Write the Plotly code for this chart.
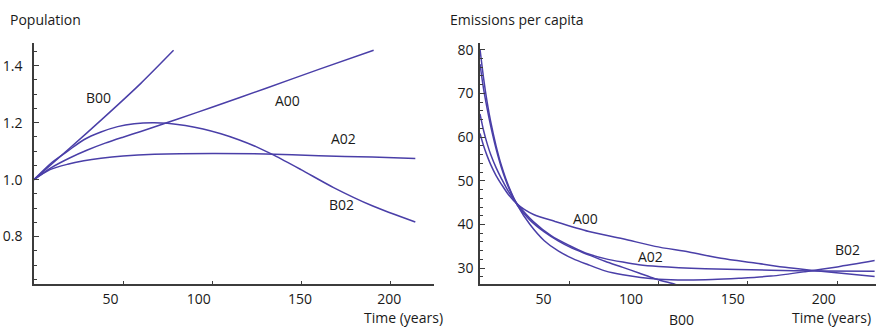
import plotly.graph_objects as go

# ---------------- data ----------------
# Population (relative)
pop_b00_t = [0, 20, 40, 60, 78.4]
pop_b00_v = [1.0, 1.110, 1.222, 1.338, 1.454]

pop_b02_t = [0, 10, 18.9, 28, 37.6, 47, 56.3, 66.6, 75, 85, 95, 105, 115, 125, 135, 150, 168.3, 190, 214.2]
pop_b02_v = [1.0, 1.06, 1.10, 1.140, 1.167, 1.186, 1.196, 1.200, 1.198, 1.190, 1.178, 1.161, 1.140, 1.115, 1.085, 1.035, 0.972, 0.908, 0.851]

pop_a00_t = [0, 10, 20, 30, 40, 50, 60, 70, 80, 100, 130, 160, 190.8]
pop_a00_v = [1.0, 1.043, 1.076, 1.104, 1.128, 1.149, 1.169, 1.190, 1.211, 1.254, 1.320, 1.387, 1.454]

pop_a02_t = [0, 9, 18.9, 28, 37.6, 50, 67.6, 100, 130, 160, 190, 214.2]
pop_a02_v = [1.0, 1.035, 1.054, 1.066, 1.075, 1.083, 1.089, 1.092, 1.090, 1.084, 1.079, 1.074]

# Emissions per capita
em_b02_t = [0, 2, 4, 6, 9, 12, 16, 21, 28, 36, 44, 52, 60, 70, 80, 90, 100, 115, 130, 145, 163, 182, 200, 221]
em_b02_v = [80.1, 73.5, 68.0, 63.5, 58.0, 53.5, 48.8, 44.4, 40.0, 36.3, 33.9, 32.2, 30.9, 29.4, 28.5, 27.9, 27.5, 27.3, 27.4, 27.7, 28.2, 29.2, 30.3, 31.75]

em_b00_t = [0, 2, 4, 6, 9, 12, 16, 21, 28, 36, 44, 51.5, 60, 70, 80, 89, 98, 109.4, 115]
em_b00_v = [76.7, 71.0, 66.5, 62.5, 57.3, 53.0, 48.5, 44.4, 41.0, 38.3, 36.2, 34.6, 33.2, 31.6, 30.2, 28.9, 27.6, 26.3, 25.6]

em_a02_t = [0, 2, 4, 6, 9, 12, 16, 21.5, 30, 40, 50, 59, 70, 80, 89, 100, 126, 163, 190, 221]
em_a02_v = [65.3, 61.5, 58.5, 56.0, 53.0, 50.5, 47.5, 44.4, 40.6, 37.4, 35.2, 33.5, 32.2, 31.4, 30.8, 30.4, 29.9, 29.55, 29.35, 29.3]

em_a00_t = [0, 2, 4, 6, 9, 12, 16, 21, 25, 30, 42, 61, 80, 98, 117, 135, 154, 173, 191, 221]
em_a00_v = [60.8, 58.0, 55.7, 53.7, 51.2, 49.2, 46.8, 44.6, 43.4, 42.3, 40.7, 38.4, 36.75, 35.0, 33.7, 32.3, 31.2, 30.1, 29.3, 28.1]

x_tick_vals = [50, 100, 150, 200]
x_tick_text = ["50", "100", "150", "200"]
pop_y_ticks = [0.8, 1.0, 1.2, 1.4]
pop_y_text = ["0.8", "1.0", "1.2", "1.4"]
em_y_ticks = [30, 40, 50, 60, 70, 80]
em_y_text = ["30", "40", "50", "60", "70", "80"]

# ---------------- style ----------------
W, H = 879, 328
LINE = "#4a3fa8"
AX = "#3c3c3c"
TXT = "#1a1a1a"
FONT = "Open Sans"

left_px = (34, 434)
right_px = (480, 875.7)
top_px, bot_px = 40, 284

pop_xrange = [0, 224.7]
pop_yrange = [0.632, 1.481]
em_xrange = [0, 221.6]
em_yrange = [26.3, 81.6]

# horizontal shift (px) of each x tick label relative to its tick mark
pop_label_shift_px = [-12.6, -13.3, -1.0, -0.7]
em_label_shift_px = [-25.7, -27.5, -15.0, -13.5]

def shifted(vals, shifts, xr, pxr):
    ppu = (pxr[1] - pxr[0]) / (xr[1] - xr[0])
    return [v + s / ppu for v, s in zip(vals, shifts)]

fig = go.Figure()

def add(t, v, xa, ya):
    fig.add_trace(go.Scatter(x=t, y=v, mode="lines", xaxis=xa, yaxis=ya,
                             line=dict(color=LINE, width=1.5, shape="spline", smoothing=0.8),
                             showlegend=False, hoverinfo="skip"))

add(pop_b00_t, pop_b00_v, "x", "y")
add(pop_b02_t, pop_b02_v, "x", "y")
add(pop_a00_t, pop_a00_v, "x", "y")
add(pop_a02_t, pop_a02_v, "x", "y")
add(em_b02_t, em_b02_v, "x2", "y2")
add(em_b00_t, em_b00_v, "x2", "y2")
add(em_a02_t, em_a02_v, "x2", "y2")
add(em_a00_t, em_a00_v, "x2", "y2")

ydom = [1 - bot_px / H, 1 - top_px / H]

common_x = dict(showgrid=False, zeroline=False, showline=True, linecolor=AX, linewidth=1.6,
                ticks="", tickfont=dict(family=FONT, size=14, color=TXT), ticklabelstandoff=1)

def common_y(standoff):
    return dict(showgrid=False, zeroline=False, showline=True, linecolor=AX, linewidth=1.6,
                ticks="inside", ticklen=5, tickcolor=AX, tickwidth=1,
                tickfont=dict(family=FONT, size=14, color=TXT), ticklabelstandoff=standoff)

fig.update_layout(
    width=W, height=H, margin=dict(l=0, r=0, t=0, b=0),
    paper_bgcolor="white", plot_bgcolor="white",
    xaxis=dict(domain=[left_px[0] / W, left_px[1] / W], range=pop_xrange, anchor="y",
               tickmode="array", tickvals=shifted(x_tick_vals, pop_label_shift_px, pop_xrange, left_px),
               ticktext=x_tick_text,
               minor=dict(tickmode="array", tickvals=x_tick_vals, ticks="inside", ticklen=4,
                          tickcolor=AX, tickwidth=1),
               **common_x),
    yaxis=dict(domain=ydom, range=pop_yrange, anchor="x",
               tickmode="array", tickvals=pop_y_ticks, ticktext=pop_y_text,
               minor=dict(dtick=0.05, tick0=0, ticks="inside", ticklen=3, tickcolor=AX, tickwidth=1),
               **common_y(7)),
    xaxis2=dict(domain=[right_px[0] / W, right_px[1] / W], range=em_xrange, anchor="y2",
                tickmode="array", tickvals=shifted(x_tick_vals, em_label_shift_px, em_xrange, right_px),
                ticktext=x_tick_text,
                minor=dict(tickmode="array", tickvals=x_tick_vals, ticks="inside", ticklen=4,
                           tickcolor=AX, tickwidth=1),
                **common_x),
    yaxis2=dict(domain=ydom, range=em_yrange, anchor="x2",
                tickmode="array", tickvals=em_y_ticks, ticktext=em_y_text,
                minor=dict(dtick=2, tick0=0, ticks="inside", ticklen=3, tickcolor=AX, tickwidth=1),
                **common_y(2)),
)

def note(text, x, y, xref, yref, xanchor="center", yanchor="middle"):
    fig.add_annotation(text=text, x=x, y=y, xref=xref, yref=yref, showarrow=False,
                       xanchor=xanchor, yanchor=yanchor,
                       font=dict(family=FONT, size=14, color=TXT))

# panel titles and axis titles
note("Population", 8 / W, 1 - 16.7 / H, "paper", "paper", xanchor="left")
note("Emissions per capita", 448 / W, 1 - 16.7 / H, "paper", "paper", xanchor="left")
note("Time (years)", 361.7 / W, -0.004, "paper", "paper", xanchor="left", yanchor="bottom")
note("Time (years)", 790 / W, -0.002, "paper", "paper", xanchor="left", yanchor="bottom")

# curve labels
note("B00", 36.3, 1.287, "x", "y")
note("A00", 142.5, 1.278, "x", "y")
note("A02", 173.6, 1.145, "x", "y")
note("B02", 172.5, 0.913, "x", "y")
note("A00", 59.0, 41.4, "x2", "y2")
note("A02", 95.4, 32.7, "x2", "y2")
note("B02", 206.0, 34.25, "x2", "y2")
note("B00", 113.1, 1 - 319.3 / H, "x2", "paper")

fig.write_html("out.html")
